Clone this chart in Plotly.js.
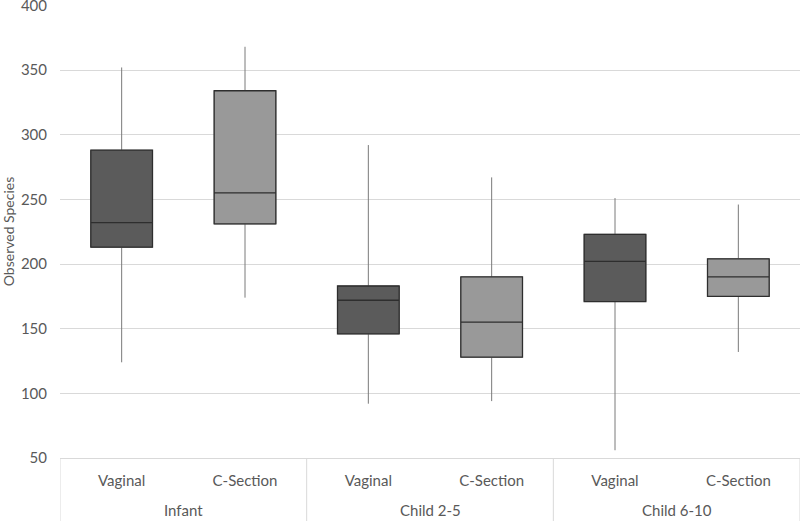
<!DOCTYPE html>
<html>
<head>
<meta charset="utf-8">
<script src="https://cdn.plot.ly/plotly-3.0.1.min.js"></script>
<style>html,body{margin:0;padding:0;background:#fff;}#chart{width:800px;height:521px;}</style>
</head>
<body>
<div id="chart"></div>
<script>
const groups = ["Infant", "Child 2-5", "Child 6-10"];
const deliveryTypes = ["Vaginal", "C-Section"];

const vaginalLow    = [124, 92, 56];
const vaginalQ1     = [213, 146, 171];
const vaginalMedian = [232, 172, 202];
const vaginalQ3     = [288, 183, 223];
const vaginalHigh   = [352, 292, 251];

const csectionLow    = [174, 94, 132];
const csectionQ1     = [231, 128, 175];
const csectionMedian = [255, 155, 190];
const csectionQ3     = [334, 190, 204];
const csectionHigh   = [368, 267, 246];

const yTicks = [50, 100, 150, 200, 250, 300, 350, 400];

const nSub = deliveryTypes.length;
function pos(g, s) { return g * nSub + s; }

// whiskers (light gray) drawn under a box with dark outline
function whiskerTrace(s, low, q1, med, q3, high, fill) {
  return {
    type: "box",
    name: deliveryTypes[s] + " whiskers",
    x: groups.map((g, i) => pos(i, s)),
    lowerfence: low, q1: q1, median: med, q3: q3, upperfence: high,
    fillcolor: fill,
    line: {color: "#7a7a7a", width: 1},
    whiskerwidth: 0,
    width: 0.5,
    boxpoints: false,
    hoverinfo: "skip"
  };
}
function boxTrace(s, q1, med, q3, fill) {
  return {
    type: "box",
    name: deliveryTypes[s],
    x: groups.map((g, i) => pos(i, s)),
    lowerfence: q1, q1: q1, median: med, q3: q3, upperfence: q3,
    fillcolor: fill,
    line: {color: "#2e2e2e", width: 1.3},
    whiskerwidth: 0,
    width: 0.5,
    boxpoints: false,
    hoverinfo: "skip"
  };
}

const data = [
  whiskerTrace(0, vaginalLow, vaginalQ1, vaginalMedian, vaginalQ3, vaginalHigh, "#5b5b5b"),
  whiskerTrace(1, csectionLow, csectionQ1, csectionMedian, csectionQ3, csectionHigh, "#999999"),
  boxTrace(0, vaginalQ1, vaginalMedian, vaginalQ3, "#5b5b5b"),
  boxTrace(1, csectionQ1, csectionMedian, csectionQ3, "#999999")
];

const subTickVals = [], subTickText = [];
groups.forEach((g, i) => deliveryTypes.forEach((d, s) => { subTickVals.push(pos(i, s)); subTickText.push(d); }));

const groupAnnotations = groups.map((g, i) => ({
  text: g, x: pos(i, 0) + (nSub - 1) / 2, xref: "x",
  y: 0, yref: "paper", yanchor: "middle", yshift: -52,
  showarrow: false, font: {size: 15, color: "#595959"}
}));

const dividerShapes = [];
for (let i = 0; i <= groups.length; i++) {
  dividerShapes.push({
    type: "line", xref: "x", yref: "paper",
    x0: i * nSub - 0.5, x1: i * nSub - 0.5, y0: 0, y1: -0.14,
    line: {color: "#d9d9d9", width: 1}
  });
}

const layout = {
  width: 800, height: 521,
  margin: {l: 60, r: 0, t: 5, b: 63},
  paper_bgcolor: "#ffffff",
  plot_bgcolor: "#ffffff",
  showlegend: false,
  font: {family: "Lato, 'Open Sans', sans-serif", color: "#595959", size: 14},
  boxmode: "overlay",
  xaxis: {
    range: [-0.5, groups.length * nSub - 0.5],
    tickvals: subTickVals, ticktext: subTickText,
    showgrid: false, zeroline: false,
    showline: true, linecolor: "#d9d9d9", linewidth: 1,
    ticks: "",
    ticklabelstandoff: 9,
    tickfont: {size: 15, color: "#595959"},
    automargin: false
  },
  yaxis: {
    range: [50, 400.3],
    tickvals: yTicks,
    ticktext: yTicks.map(String),
    showgrid: true, gridcolor: "#d9d9d9", gridwidth: 1,
    zeroline: false, showline: false, ticks: "",
    ticklabelstandoff: 12,
    ticklabeloverflow: "allow",
    tickfont: {size: 15, color: "#595959"},
    title: {text: "Observed Species", font: {size: 14, color: "#595959"}, standoff: 6},
    automargin: false
  },
  annotations: groupAnnotations,
  shapes: dividerShapes
};

Plotly.newPlot("chart", data, layout, {displayModeBar: false, staticPlot: true});
</script>
</body>
</html>
